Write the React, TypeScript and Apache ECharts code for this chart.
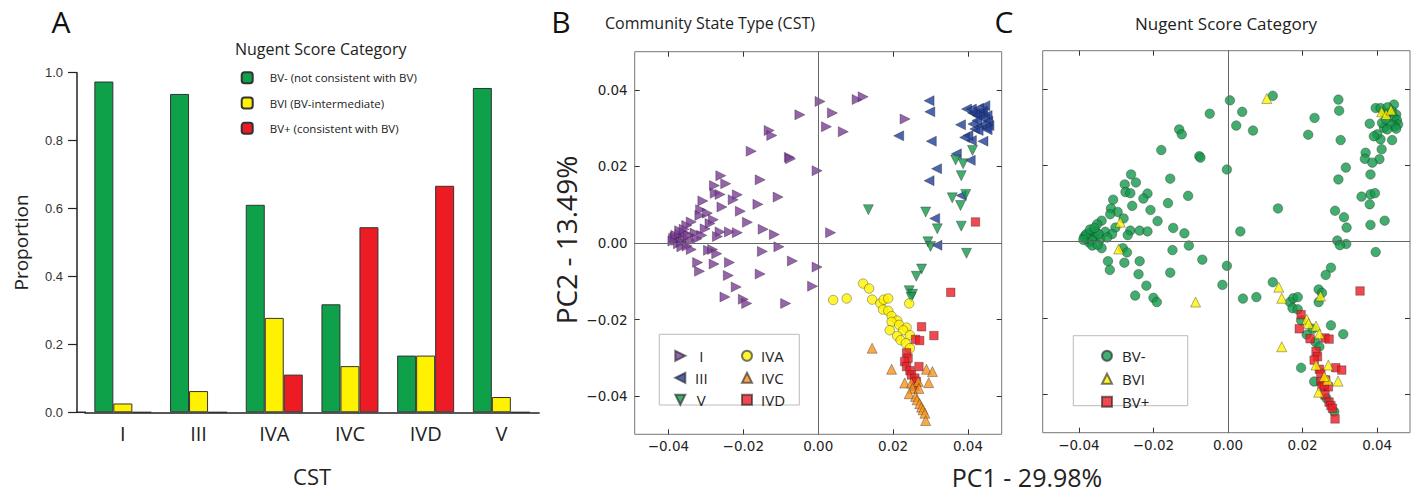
import React, { useEffect, useRef } from 'react';
import * as echarts from 'echarts';

// ---------- Panel A data ----------
const CST_CATEGORIES = ['I', 'III', 'IVA', 'IVC', 'IVD', 'V'];
const BAR_NAMES = ['BV- (not consistent with BV)', 'BVI (BV-intermediate)', 'BV+ (consistent with BV)'];
const BV_NEG = [0.974, 0.9375, 0.611, 0.318, 0.167, 0.955];
const BV_INT = [0.026, 0.0625, 0.278, 0.136, 0.167, 0.045];
const BV_POS = [0, 0, 0.111, 0.545, 0.667, 0];

// ---------- Panels B / C data ----------
const PC_TICKS = [-0.04, -0.02, 0, 0.02, 0.04];
const NUGENT = ['BV-', 'BVI', 'BV+'];

// [PC1, PC2, Nugent category index]
const cstI = [
  [-0.0049, 0.0335, 0], [-0.0131, 0.0294, 0], [-0.0124, 0.0281, 0], [-0.0179, 0.024, 0], [-0.0077, 0.0224, 0], [-0.0074, 0.022, 0],
  [-0.026, 0.0176, 0], [-0.0155, 0.0165, 0], [-0.0247, 0.0155, 0], [-0.0277, 0.015, 0], [-0.0275, 0.013, 0], [-0.0262, 0.0127, 0],
  [-0.0216, 0.0126, 0], [-0.0227, 0.0113, 0], [-0.0107, 0.012, 0], [-0.0308, 0.011, 0], [-0.0161, 0.0101, 0], [-0.0257, 0.0094, 0],
  [-0.0208, 0.0083, 0], [-0.0314, 0.0087, 0], [-0.0296, 0.0078, 0], [-0.0316, 0.0072, 0], [-0.028, 0.0061, 0], [-0.0189, 0.0054, 0],
  [-0.0289, 0.0051, 1], [-0.0339, 0.0055, 0], [-0.0351, 0.0046, 0], [-0.0147, 0.0036, 0], [-0.0262, 0.0029, 0], [-0.0237, 0.0029, 0],
  [-0.0216, 0.0027, 0], [-0.0117, 0.0022, 0], [-0.0302, 0.0037, 0], [-0.0329, 0.0026, 0], [-0.0269, 0.0017, 0], [-0.0311, 0.002, 0],
  [-0.0382, 0.0016, 0], [-0.0378, 0.0007, 0], [-0.0369, 0.0023, 0], [-0.036, 0.0011, 0], [-0.0355, 0.0026, 0], [-0.0373, -0.0002, 0],
  [-0.0342, 0.0007, 0], [-0.0386, 0.0012, 0], [-0.0365, 0.0003, 0], [-0.0347, 0.002, 0], [-0.0324, 0.0011, 0], [-0.038, 0.002, 0],
  [-0.037, 0.0032, 0], [-0.0358, 0.0036, 0], [-0.0388, 0.0005, 0],
  [-0.0364, -0.001, 0], [-0.0339, -0.0017, 0], [-0.035, -0.0008, 0], [-0.0293, -0.0019, 1], [-0.0282, -0.0017, 0], [-0.0271, -0.0028, 0],
  [-0.0149, -0.0022, 0], [-0.0105, -0.001, 0], [-0.0069, -0.0047, 0], [-0.0322, -0.0051, 0], [-0.0278, -0.0055, 0], [-0.0237, -0.0051, 0],
  [-0.0317, -0.0074, 0], [-0.024, -0.0085, 0], [-0.0155, -0.0081, 0], [-0.0219, -0.0115, 0], [-0.0249, -0.0141, 0], [-0.02, -0.0147, 0],
  [-0.0191, -0.0158, 0], [-0.0087, -0.0158, 1], [-0.0015, -0.0113, 0],
  [0.0005, 0.037, 0], [0.0104, 0.0375, 1], [0.012, 0.0382, 0], [0.0038, 0.034, 0], [0.0232, 0.0324, 0], [0.0022, 0.0304, 0],
  [0.0067, 0.0291, 0], [-0.0003, 0.0189, 0], [0.0033, 0.0027, 0], [-0.0003, -0.0063, 0],
];

const cstIII = [
  [0.0215, 0.028, 0], [0.0296, 0.0372, 0], [0.0298, 0.0343, 0], [0.038, 0.0309, 0], [0.0302, 0.0266, 0], [0.0316, 0.0194, 0],
  [0.0296, 0.0163, 0], [0.0369, 0.0233, 0], [0.0406, 0.0216, 0], [0.0382, 0.0124, 0], [0.0311, 0.0064, 0], [0.0317, -0.0006, 0],
  [0.044, 0.0266, 0], [0.0409, 0.0268, 0], [0.04, 0.0281, 0], [0.0391, 0.0276, 0], [0.0418, 0.0298, 0], [0.0413, 0.0311, 0],
  [0.0396, 0.035, 0], [0.0412, 0.034, 1], [0.0424, 0.0333, 1], [0.0437, 0.0345, 1], [0.0445, 0.0359, 0], [0.044, 0.0341, 0],
  [0.0431, 0.0337, 0], [0.0451, 0.0333, 0], [0.0445, 0.0324, 0], [0.0453, 0.0318, 0], [0.0456, 0.0307, 0], [0.0447, 0.0302, 0],
  [0.0436, 0.0307, 0], [0.0424, 0.032, 0], [0.0418, 0.0339, 0], [0.0451, 0.0296, 0], [0.0427, 0.0294, 0], [0.0409, 0.035, 0],
  [0.0428, 0.0352, 0],
];

const cstV = [
  [0.0134, 0.0087, 0], [0.0412, 0.0242, 0], [0.0367, 0.0217, 0], [0.0387, 0.0207, 0], [0.0382, 0.0176, 0], [0.0358, 0.0118, 0],
  [0.0394, 0.0127, 0], [0.038, 0.0098, 0], [0.0287, 0.0081, 0], [0.0318, 0.0037, 0], [0.0382, 0.0044, 0], [0.0293, 0.0003, 0],
  [0.03, -0.0009, 0], [0.0396, -0.0027, 0], [0.0276, -0.0068, 0], [0.0262, -0.0087, 0], [0.0243, -0.0125, 0], [0.0252, -0.0134, 0],
  [0.0248, -0.0142, 1],
];

const cstIVA = [
  [0.004, -0.0149, 0], [0.0076, -0.0145, 0], [0.012, -0.0106, 0], [0.0136, -0.0119, 1], [0.0144, -0.0148, 1], [0.0166, -0.0158, 0],
  [0.0175, -0.0148, 0], [0.0187, -0.0145, 0], [0.0173, -0.0174, 0], [0.0187, -0.0177, 0], [0.0196, -0.0191, 2], [0.0211, -0.0203, 1],
  [0.0196, -0.0206, 0], [0.0216, -0.0214, 1], [0.0236, -0.0221, 1], [0.0191, -0.0228, 2], [0.0227, -0.0228, 0], [0.0245, -0.0241, 1],
  [0.0211, -0.0243, 0], [0.022, -0.0254, 2], [0.0234, -0.0262, 0], [0.0245, -0.0275, 0], [0.0243, -0.0158, 0],
];

const cstIVC = [
  [0.0144, -0.0275, 1], [0.0196, -0.033, 0], [0.0289, -0.033, 2], [0.0305, -0.0336, 2], [0.0231, -0.0366, 0], [0.0249, -0.0366, 2],
  [0.0267, -0.0362, 1], [0.0295, -0.0365, 1], [0.0252, -0.038, 2], [0.0269, -0.038, 2], [0.0243, -0.0394, 1], [0.026, -0.0401, 2],
  [0.0264, -0.041, 0], [0.0271, -0.042, 2], [0.0276, -0.0429, 2], [0.028, -0.0436, 2], [0.0285, -0.0445, 0], [0.0287, -0.0464, 2],
];

const cstIVD = [
  [0.042, 0.0055, 0], [0.0354, -0.0129, 2], [0.0276, -0.0219, 0], [0.0309, -0.0242, 0], [0.026, -0.0252, 2], [0.0271, -0.0255, 2],
  [0.0236, -0.0287, 2], [0.024, -0.0301, 2], [0.0231, -0.031, 2], [0.0236, -0.0323, 1], [0.0269, -0.0323, 1], [0.0245, -0.0334, 2],
  [0.0249, -0.0345, 2], [0.0258, -0.0353, 1], [0.0262, -0.0362, 2], [0.0258, -0.0375, 2],
];

const FONT = '"Open Sans", "Noto Sans", sans-serif';
const TICK_FONT = '"DejaVu Sans", sans-serif';

const ICON_RIGHT = 'path://M0,0L10,5L0,10Z';
const ICON_LEFT = 'path://M10,0L0,5L10,10Z';
const ICON_DOWN = 'path://M0,0L10,0L5,10Z';

const fmtPC = (v: number) => (Math.abs(v) < 1e-9 ? '0.00' : (v < 0 ? '\u2212' : '') + Math.abs(v).toFixed(2));
const xy = (arr: number[][]) => arr.map((p) => [p[0], p[1]]);

const pcAxis = (gridIndex: number, min: number, max: number, position: string, showLabel: boolean) => ({
  type: 'value',
  gridIndex,
  min,
  max,
  position,
  axisLine: { show: false, onZero: false },
  axisTick: { show: true, inside: true, length: 5, lineStyle: { color: '#333', width: 1 }, customValues: PC_TICKS },
  axisLabel: {
    show: showLabel,
    customValues: PC_TICKS,
    formatter: fmtPC,
    fontFamily: TICK_FONT,
    fontSize: 13.5,
    color: '#222',
    margin: position === 'bottom' ? 5 : 7,
  },
  splitLine: { show: false },
});

const markBorder = { borderColor: 'rgba(30,30,30,0.75)', borderWidth: 0.6 };
const zeroLines = {
  silent: true,
  symbol: ['none', 'none'],
  label: { show: false },
  lineStyle: { color: '#666', width: 1, type: 'solid' },
  data: [{ xAxis: 0 }, { yAxis: 0 }],
};

const cstSeries = [
  { name: 'I', data: cstI, symbol: 'triangle', rotate: -90, size: 10, color: '#7d3c98' },
  { name: 'III', data: cstIII, symbol: 'triangle', rotate: 90, size: 10, color: '#213f9a' },
  { name: 'V', data: cstV, symbol: 'triangle', rotate: 180, size: 10, color: '#13984a' },
  { name: 'IVA', data: cstIVA, symbol: 'circle', rotate: 0, size: 9.5, color: '#fff200' },
  { name: 'IVD', data: cstIVD, symbol: 'rect', rotate: 0, size: 8.5, color: '#ed1c24' },
  { name: 'IVC', data: cstIVC, symbol: 'triangle', rotate: 0, size: 10, color: '#f7941d' },
];

const ALL_POINTS = [...cstI, ...cstIII, ...cstV, ...cstIVA, ...cstIVC, ...cstIVD];
const nugentSeries = [
  { code: 0, symbol: 'circle', size: 9.5, color: '#13984a' },
  { code: 2, symbol: 'rect', size: 8.5, color: '#ed1c24' },
  { code: 1, symbol: 'triangle', size: 10, color: '#fff200' },
];

const legendText = (fontSize: number, padW: number, textW?: number, align?: string) => ({
  formatter: (n: string) => `{p| }{t|${n}}`,
  textStyle: {
    rich: {
      p: { width: padW, fontSize: 4, lineHeight: 11 },
      t: { fontFamily: FONT, fontSize, color: '#222', lineHeight: 11, ...(textW ? { width: textW, align } : {}) },
    },
  },
});

export default function App() {
  const ref = useRef<HTMLDivElement>(null);

  useEffect(() => {
    if (!ref.current) return;
    const chart = echarts.init(ref.current, null, { renderer: 'svg' });

    const barColors = ['#0fa14a', '#fff200', '#ed1c24'];
    const barData = [BV_NEG, BV_INT, BV_POS];

    const series: any[] = [];
    BAR_NAMES.forEach((n, i) => {
      series.push({
        name: n,
        type: 'bar',
        xAxisIndex: 0,
        yAxisIndex: 0,
        barWidth: 19,
        barGap: '0%',
        data: barData[i],
        itemStyle: { color: barColors[i], borderColor: '#333', borderWidth: 1 },
      });
    });

    cstSeries.forEach((s, i) => {
      series.push({
        name: s.name,
        type: 'scatter',
        xAxisIndex: 1,
        yAxisIndex: 1,
        symbol: s.symbol,
        symbolRotate: s.rotate,
        symbolSize: s.size,
        data: xy(s.data),
        itemStyle: { color: s.color, ...markBorder },
        ...(i === 0 ? { markLine: zeroLines } : {}),
      });
    });

    nugentSeries.forEach((s, i) => {
      series.push({
        name: NUGENT[s.code],
        type: 'scatter',
        xAxisIndex: 3,
        yAxisIndex: 3,
        symbol: s.symbol,
        symbolSize: s.size,
        data: xy(ALL_POINTS.filter((p) => p[2] === s.code)),
        itemStyle: { color: s.color, ...markBorder },
        ...(i === 0 ? { markLine: zeroLines } : {}),
      });
    });

    const legendBase = {
      orient: 'vertical',
      padding: 0,
      selectedMode: false,
    };

    chart.setOption({
      animation: false,
      backgroundColor: '#ffffff',
      grid: [
        { left: 85, top: 72.7, width: 454.2, height: 339.6 },
        { left: 634.7, top: 51.7, width: 367, height: 382.6, show: true, borderColor: '#777', borderWidth: 1 },
        { left: 1042.7, top: 50.7, width: 367.3, height: 382, show: true, borderColor: '#777', borderWidth: 1 },
      ],
      xAxis: [
        {
          type: 'category',
          gridIndex: 0,
          data: CST_CATEGORIES,
          axisLine: { lineStyle: { color: '#222', width: 1.5 } },
          axisTick: { show: false },
          axisLabel: { interval: 0, fontFamily: FONT, fontSize: 20, color: '#222', margin: 11 },
          name: 'CST',
          nameLocation: 'middle',
          nameGap: 53,
          nameTextStyle: { fontFamily: FONT, fontSize: 22, color: '#222' },
        },
        pcAxis(1, -0.049, 0.049, 'bottom', true),
        pcAxis(1, -0.049, 0.049, 'top', false),
        pcAxis(2, -0.0497, 0.0488, 'bottom', true),
        pcAxis(2, -0.0497, 0.0488, 'top', false),
      ],
      yAxis: [
        {
          type: 'value',
          gridIndex: 0,
          min: 0,
          max: 1,
          interval: 0.2,
          offset: 8,
          axisLine: { show: true, lineStyle: { color: '#222', width: 1.5 } },
          axisTick: { show: true, length: 9, lineStyle: { color: '#222', width: 1.2 } },
          axisLabel: {
            formatter: (v: number) => v.toFixed(1),
            fontFamily: '"Liberation Sans", Arial, sans-serif',
            fontSize: 13,
            color: '#333',
            margin: 14,
          },
          splitLine: { show: false },
          name: 'Proportion',
          nameLocation: 'middle',
          nameGap: 47,
          nameRotate: 90,
          nameTextStyle: { fontFamily: FONT, fontSize: 19, color: '#222' },
        },
        pcAxis(1, -0.05, 0.05, 'left', true),
        pcAxis(1, -0.05, 0.05, 'right', false),
        pcAxis(2, -0.05, 0.05, 'left', false),
        pcAxis(2, -0.05, 0.05, 'right', false),
      ],
      legend: [
        {
          ...legendBase,
          data: BAR_NAMES,
          left: 240.7,
          top: 71.2,
          itemWidth: 11,
          itemHeight: 11,
          itemGap: 12.3,
          ...legendText(11.5, 12),
        },
        {
          ...legendBase,
          data: [
            { name: 'I', icon: ICON_RIGHT },
            { name: 'III', icon: ICON_LEFT },
            { name: 'V', icon: ICON_DOWN },
          ],
          left: 674.3,
          top: 348.3,
          itemWidth: 10,
          itemHeight: 10,
          itemGap: 7,
          ...legendText(15, 4, 14, 'center'),
        },
        {
          ...legendBase,
          data: ['IVA', 'IVC', 'IVD'],
          left: 741,
          top: 348.3,
          itemWidth: 10,
          itemHeight: 10,
          itemGap: 7,
          ...legendText(15, 4),
        },
        {
          ...legendBase,
          data: NUGENT,
          left: 1101,
          top: 348.3,
          itemWidth: 10,
          itemHeight: 10,
          itemGap: 8,
          ...legendText(15, 5),
        },
      ],
      graphic: [
        { type: 'line', shape: { x1: 76.3, y1: 412.3, x2: 86, y2: 412.3 }, style: { stroke: '#222', lineWidth: 1.5 } },
        { type: 'text', x: 61, y: 21, style: { text: 'A', font: `30px ${FONT}`, fill: '#111', align: 'center', verticalAlign: 'middle' } },
        { type: 'text', x: 561, y: 21, style: { text: 'B', font: `30px ${FONT}`, fill: '#111', align: 'center', verticalAlign: 'middle' } },
        { type: 'text', x: 1004, y: 21, style: { text: 'C', font: `30px ${FONT}`, fill: '#111', align: 'center', verticalAlign: 'middle' } },
        { type: 'text', x: 235, y: 49, style: { text: 'Nugent Score Category', font: `16px ${FONT}`, fill: '#222', align: 'left', verticalAlign: 'middle' } },
        { type: 'text', x: 710, y: 23, style: { text: 'Community State Type (CST)', font: `16px ${FONT}`, fill: '#222', align: 'center', verticalAlign: 'middle' } },
        { type: 'text', x: 1226, y: 23, style: { text: 'Nugent Score Category', font: `17px ${FONT}`, fill: '#222', align: 'center', verticalAlign: 'middle' } },
        { type: 'text', x: 566, y: 240, rotation: Math.PI / 2, style: { text: 'PC2 - 13.49%', font: `28px ${FONT}`, fill: '#222', align: 'center', verticalAlign: 'middle' } },
        { type: 'text', x: 1027, y: 477, style: { text: 'PC1 - 29.98%', font: `25px ${FONT}`, fill: '#222', align: 'center', verticalAlign: 'middle' } },
        { type: 'rect', shape: { x: 659.3, y: 334.3, width: 140, height: 70.7 }, style: { fill: 'none', stroke: '#bbb', lineWidth: 1 } },
        { type: 'rect', shape: { x: 1073.3, y: 335.7, width: 114.4, height: 70 }, style: { fill: 'none', stroke: '#bbb', lineWidth: 1 } },
      ],
      series,
    });

    return () => chart.dispose();
  }, []);

  return <div ref={ref} style={{ position: 'absolute', left: 0, top: 0, width: 1416, height: 495 }} />;
}
